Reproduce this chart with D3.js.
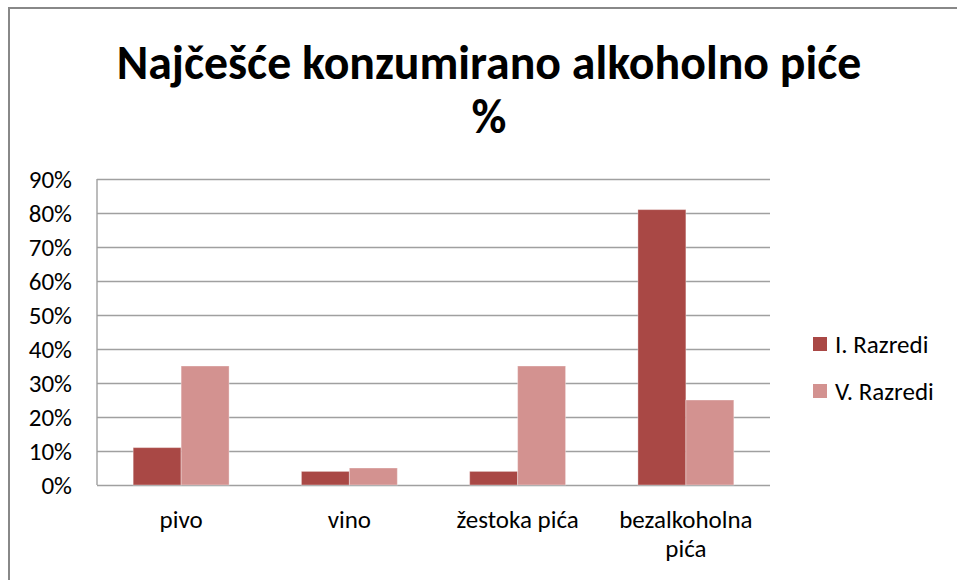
<!DOCTYPE html>
<html>
<head>
<meta charset="utf-8">
<script src="https://cdn.jsdelivr.net/npm/d3@7"></script>
<style>
  html, body { margin: 0; padding: 0; background: #fff; }
  svg { display: block; }
  text { font-family: Carlito, Calibri, Lato, "Open Sans", sans-serif; fill: #000; }
</style>
</head>
<body>
<svg id="chart" width="957" height="580"></svg>
<script>
const categories = [["pivo"], ["vino"], ["žestoka pića"], ["bezalkoholna", "pića"]];
const seriesNames = ["I. Razredi", "V. Razredi"];
const seriesI = [0.11, 0.04, 0.04, 0.81];
const seriesV = [0.35, 0.05, 0.35, 0.25];
const yTicks = [0, 0.1, 0.2, 0.3, 0.4, 0.5, 0.6, 0.7, 0.8, 0.9];
const titleLines = ["Najčešće konzumirano alkoholno piće", "%"];
const colors = ["#A94845", "#D39290"];

const svg = d3.select("#chart");
const W = 957, H = 580;
const plot = { left: 97, right: 770, top: 179, bottom: 485 };
const labelSize = 25;

// outer border (extends beyond right/bottom)
svg.append("rect").attr("x", 9).attr("y", 8).attr("width", W + 20).attr("height", H + 20)
  .attr("fill", "#fff").attr("stroke", "#888").attr("stroke-width", 2);

const catIdx = categories.map((d, i) => i);
const x0 = d3.scaleBand().domain(catIdx).range([plot.left, plot.right])
  .paddingInner(0.43).paddingOuter(0.215);
const x1 = d3.scaleBand().domain([0, 1]).range([0, x0.bandwidth()]);
const y = d3.scaleLinear().domain([0, 0.9]).range([plot.bottom, plot.top]);

// gridlines
const grid = svg.append("g").attr("class", "grid")
  .attr("transform", `translate(${plot.left},0)`)
  .call(d3.axisLeft(y).tickValues(yTicks).tickSize(-(plot.right - plot.left)).tickFormat(""));
grid.select(".domain").remove();
grid.selectAll("line").attr("stroke", "#a0a0a0").attr("stroke-width", 1.4);

// left axis line
svg.append("line").attr("x1", plot.left).attr("x2", plot.left)
  .attr("y1", plot.top).attr("y2", plot.bottom)
  .attr("stroke", "#a0a0a0").attr("stroke-width", 1.4);

// bars
const seriesData = [seriesI, seriesV];
seriesData.forEach((vals, s) => {
  svg.append("g").selectAll("rect").data(vals).join("rect")
    .attr("x", (d, i) => x0(i) + x1(s))
    .attr("y", d => y(d))
    .attr("width", x1.bandwidth())
    .attr("height", d => y(0) - y(d))
    .attr("fill", colors[s])
    .attr("stroke", "rgba(255,255,255,0.35)")
    .attr("stroke-width", 1);
});

// y tick labels
svg.append("g").selectAll("text").data(yTicks).join("text")
  .attr("x", 72).attr("y", d => y(d)).attr("dy", "0.36em")
  .attr("text-anchor", "end").attr("font-size", labelSize)
  .text(d => d3.format(".0%")(d));

// x labels
const xl = svg.append("g").selectAll("text").data(categories).join("text")
  .attr("text-anchor", "middle").attr("font-size", labelSize)
  .attr("x", (d, i) => x0(i) + x0.bandwidth() / 2)
  .attr("y", 528);
xl.selectAll("tspan").data(d => d).join("tspan")
  .attr("x", function() { return d3.select(this.parentNode).attr("x"); })
  .attr("dy", (d, i) => i === 0 ? 0 : 29)
  .text(d => d);

// title (two lines in one text element)
const t = svg.append("text").attr("x", 489).attr("y", 79)
  .attr("text-anchor", "middle").attr("font-weight", "bold").attr("font-size", 44);
const l1 = t.append("tspan").attr("x", 489).text(titleLines[0]);
const w1 = l1.node().getComputedTextLength();
t.attr("font-size", 44 * 745 / w1);
t.append("tspan").attr("x", 489).attr("dy", 54).text(titleLines[1]);

// legend
const lg = svg.append("g").selectAll("g").data(seriesNames).join("g")
  .attr("transform", (d, i) => `translate(813,${337 + i * 47})`);
lg.append("rect").attr("width", 14).attr("height", 14).attr("fill", (d, i) => colors[i]);
lg.append("text").attr("x", 22).attr("y", 7).attr("dy", "0.36em")
  .attr("font-size", labelSize).text(d => d);
</script>
</body>
</html>
